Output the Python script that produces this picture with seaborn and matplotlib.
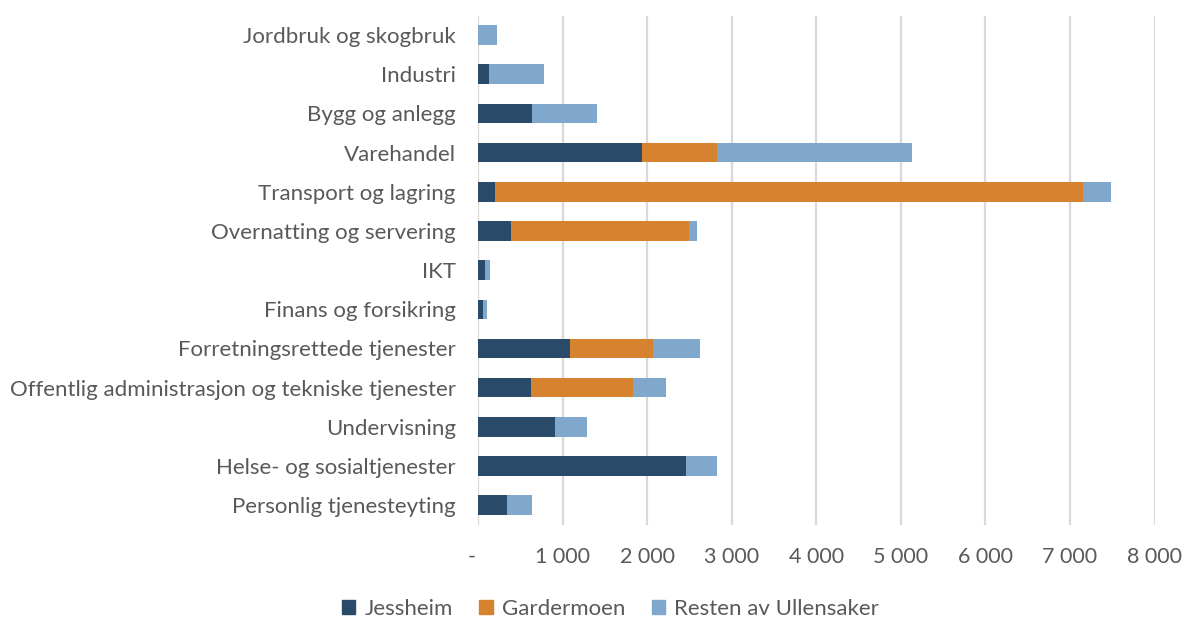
import numpy as np
import pandas as pd
import matplotlib
matplotlib.use("Agg")
import matplotlib.pyplot as plt
import seaborn as sns
from matplotlib.ticker import FuncFormatter
from matplotlib.patches import Patch

# data
bransjer = ['Jordbruk og skogbruk', 'Industri', 'Bygg og anlegg', 'Varehandel',
            'Transport og lagring', 'Overnatting og servering', 'IKT',
            'Finans og forsikring', 'Forretningsrettede tjenester',
            'Offentlig administrasjon og tekniske tjenester', 'Undervisning',
            'Helse- og sosialtjenester', 'Personlig tjenesteyting']
jessheim = [0, 130, 638, 1937, 198, 390, 83, 59, 1087, 626, 910, 2459, 343]
gardermoen = [0, 0, 0, 891, 6960, 2108, 0, 0, 985, 1209, 0, 0, 0]
resten = [225, 653, 767, 2298, 331, 95, 63, 51, 556, 383, 382, 366, 295]
serier = ['Jessheim', 'Gardermoen', 'Resten av Ullensaker']
farger = ['#294b69', '#d6822f', '#80a8cd']

df = pd.DataFrame({'bransje': bransjer, 'Jessheim': jessheim,
                   'Gardermoen': gardermoen, 'Resten': resten})
df['jg'] = df['Jessheim'] + df['Gardermoen']
df['total'] = df['jg'] + df['Resten']

sns.set_style('white')
plt.rcParams['font.family'] = ['Lato', 'DejaVu Sans']

fig = plt.figure(figsize=(11.83, 6.21), dpi=100)
ax = fig.add_axes([0.404, 0.155, 0.572, 0.82])

# stacked bars drawn as layered cumulative sums
for col, c in zip(['total', 'jg', 'Jessheim'], farger[::-1]):
    sns.barplot(data=df, y='bransje', x=col, color=c, width=0.5,
                saturation=1, linewidth=0, ax=ax, zorder=3)

ax.set_xlim(0, 8000)
ax.set_xticks(range(0, 8001, 1000))
ax.xaxis.set_major_formatter(FuncFormatter(
    lambda v, p: '-  ' if v == 0 else f'{int(v):,}'.replace(',', ' ')))
ax.grid(axis='x', color='#d9d9d9', linewidth=1.6, zorder=0)
ax.grid(axis='y', visible=False)
for s in ax.spines.values():
    s.set_visible(False)
ax.set_xlabel('')
ax.set_ylabel('')
ax.tick_params(axis='both', length=0, labelcolor='#595959')
ax.tick_params(axis='x', pad=16, labelsize=15.5)
ax.tick_params(axis='y', pad=16, labelsize=16)

handles = [Patch(color=c) for c in farger]
fig.legend(handles, serier, loc='center', bbox_to_anchor=(0.516, 0.02),
           ncol=3, frameon=False, fontsize=16, handlelength=0.6,
           handleheight=0.6, columnspacing=1.2, handletextpad=0.4,
           labelcolor='#595959')

fig.savefig('out.png', dpi=100)
